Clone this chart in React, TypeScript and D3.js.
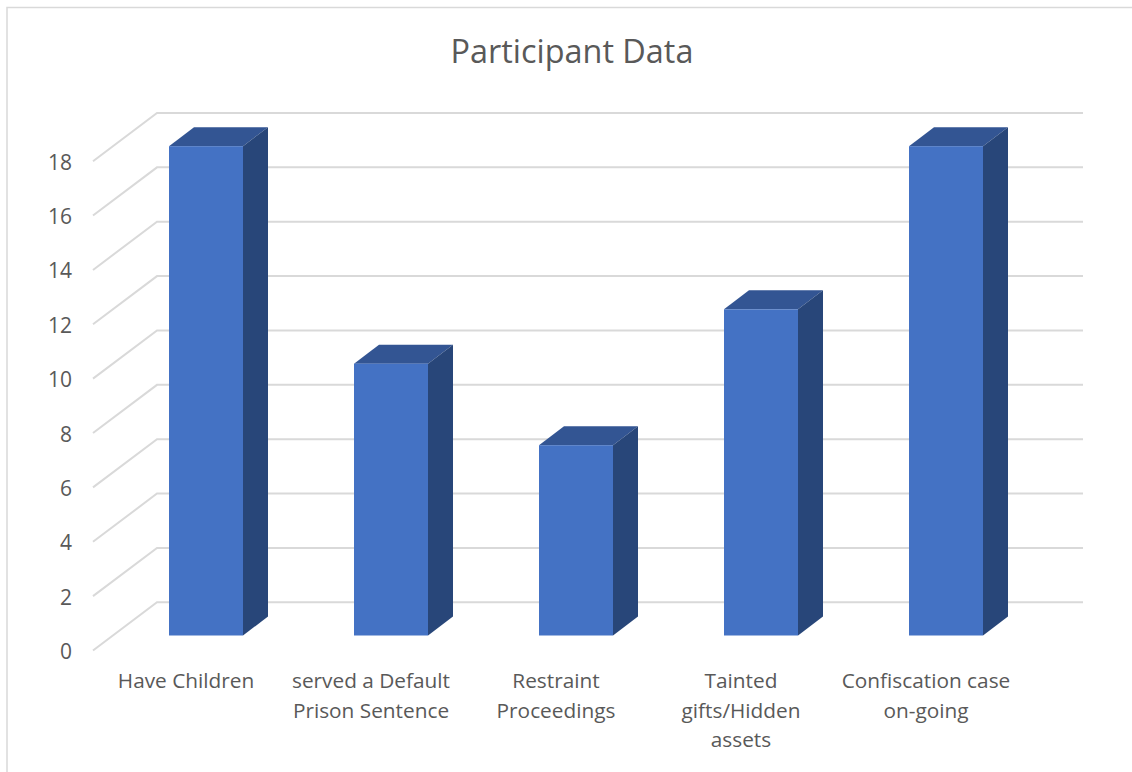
import React from "react";
import * as d3 from "d3";

const chartTitle = "Participant Data";
const categories = [
  ["Have Children"],
  ["served a Default", "Prison Sentence"],
  ["Restraint", "Proceedings"],
  ["Tainted", "gifts/Hidden", "assets"],
  ["Confiscation case", "on-going"],
];
const values = [18, 10, 7, 12, 18];
const ticks = [0, 2, 4, 6, 8, 10, 12, 14, 16, 18];

const WIDTH = 1132;
const HEIGHT = 772;
const FONT = "'Open Sans', 'Noto Sans', sans-serif";
const TEXT = "#595959";
const GRID = "#d9d9d9";
const FRONT = "#4472c4";
const SIDE = "#284679";
const TOP = "#335593";

// Oblique offset from the front plane to the back wall of the 3-D box.
const DEPTH_X = 25;
const DEPTH_Y = -19;

const y = d3.scaleLinear().domain([0, 18]).range([635.5, 146.2]);
const x = d3
  .scaleBand<number>()
  .domain(d3.range(categories.length))
  .range([113.5, 1038.5])
  .paddingInner(0.6)
  .paddingOuter(0.3);

const gridFrontX = 93;
const gridBackX = 157;
const gridRightX = 1083;
const gridFrontDy = 15;
const gridBackDy = -33.2;
const labelShift = -20;

const line = d3.line();

export default function App() {
  return (
    <svg
      width={WIDTH}
      height={HEIGHT}
      style={{ position: "absolute", left: 0, top: 0, background: "#fff" }}
      fontFamily={FONT}
    >
      {/* outer frame: top and left edges only */}
      <path d={line([[7, HEIGHT], [7, 7.5], [WIDTH, 7.5]]) ?? ""} fill="none" stroke={GRID} strokeWidth={1.5} />

      <text x={572} y={63} textAnchor="middle" fontSize={32.4} fill={TEXT}>
        {chartTitle}
      </text>

      {/* floor-and-wall gridlines with tick labels */}
      {ticks.map((t) => (
        <g key={t}>
          <path
            d={
              line([
                [gridFrontX, y(t) + gridFrontDy],
                [gridBackX, y(t) + gridBackDy],
                [gridRightX, y(t) + gridBackDy],
              ]) ?? ""
            }
            fill="none"
            stroke={GRID}
            strokeWidth={2}
          />
          <text x={72} y={y(t) + gridFrontDy + 8.5} textAnchor="end" fontSize={21} fill={TEXT}>
            {t}
          </text>
        </g>
      ))}

      {/* 3-D bars: front, top and side faces */}
      {values.map((v, i) => {
        const x0 = x(i) as number;
        const x1 = x0 + x.bandwidth();
        const yTop = y(v);
        const yBase = y(0);
        return (
          <g key={i}>
            <path
              d={line([[x0, yTop], [x0 + DEPTH_X, yTop + DEPTH_Y], [x1 + DEPTH_X, yTop + DEPTH_Y], [x1, yTop]]) + "Z"}
              fill={TOP}
            />
            <path
              d={line([[x1, yTop], [x1 + DEPTH_X, yTop + DEPTH_Y], [x1 + DEPTH_X, yBase + DEPTH_Y], [x1, yBase]]) + "Z"}
              fill={SIDE}
            />
            <rect x={x0} y={yTop} width={x.bandwidth()} height={yBase - yTop} fill={FRONT} />
          </g>
        );
      })}

      {/* category labels */}
      {categories.map((lines, i) => {
        const cx = (x(i) as number) + x.bandwidth() / 2 + labelShift;
        return (
          <text key={i} x={cx} textAnchor="middle" fontSize={20.8} fill={TEXT}>
            {lines.map((l, j) => (
              <tspan key={j} x={cx} y={688 + j * 29.5}>
                {l}
              </tspan>
            ))}
          </text>
        );
      })}
    </svg>
  );
}
